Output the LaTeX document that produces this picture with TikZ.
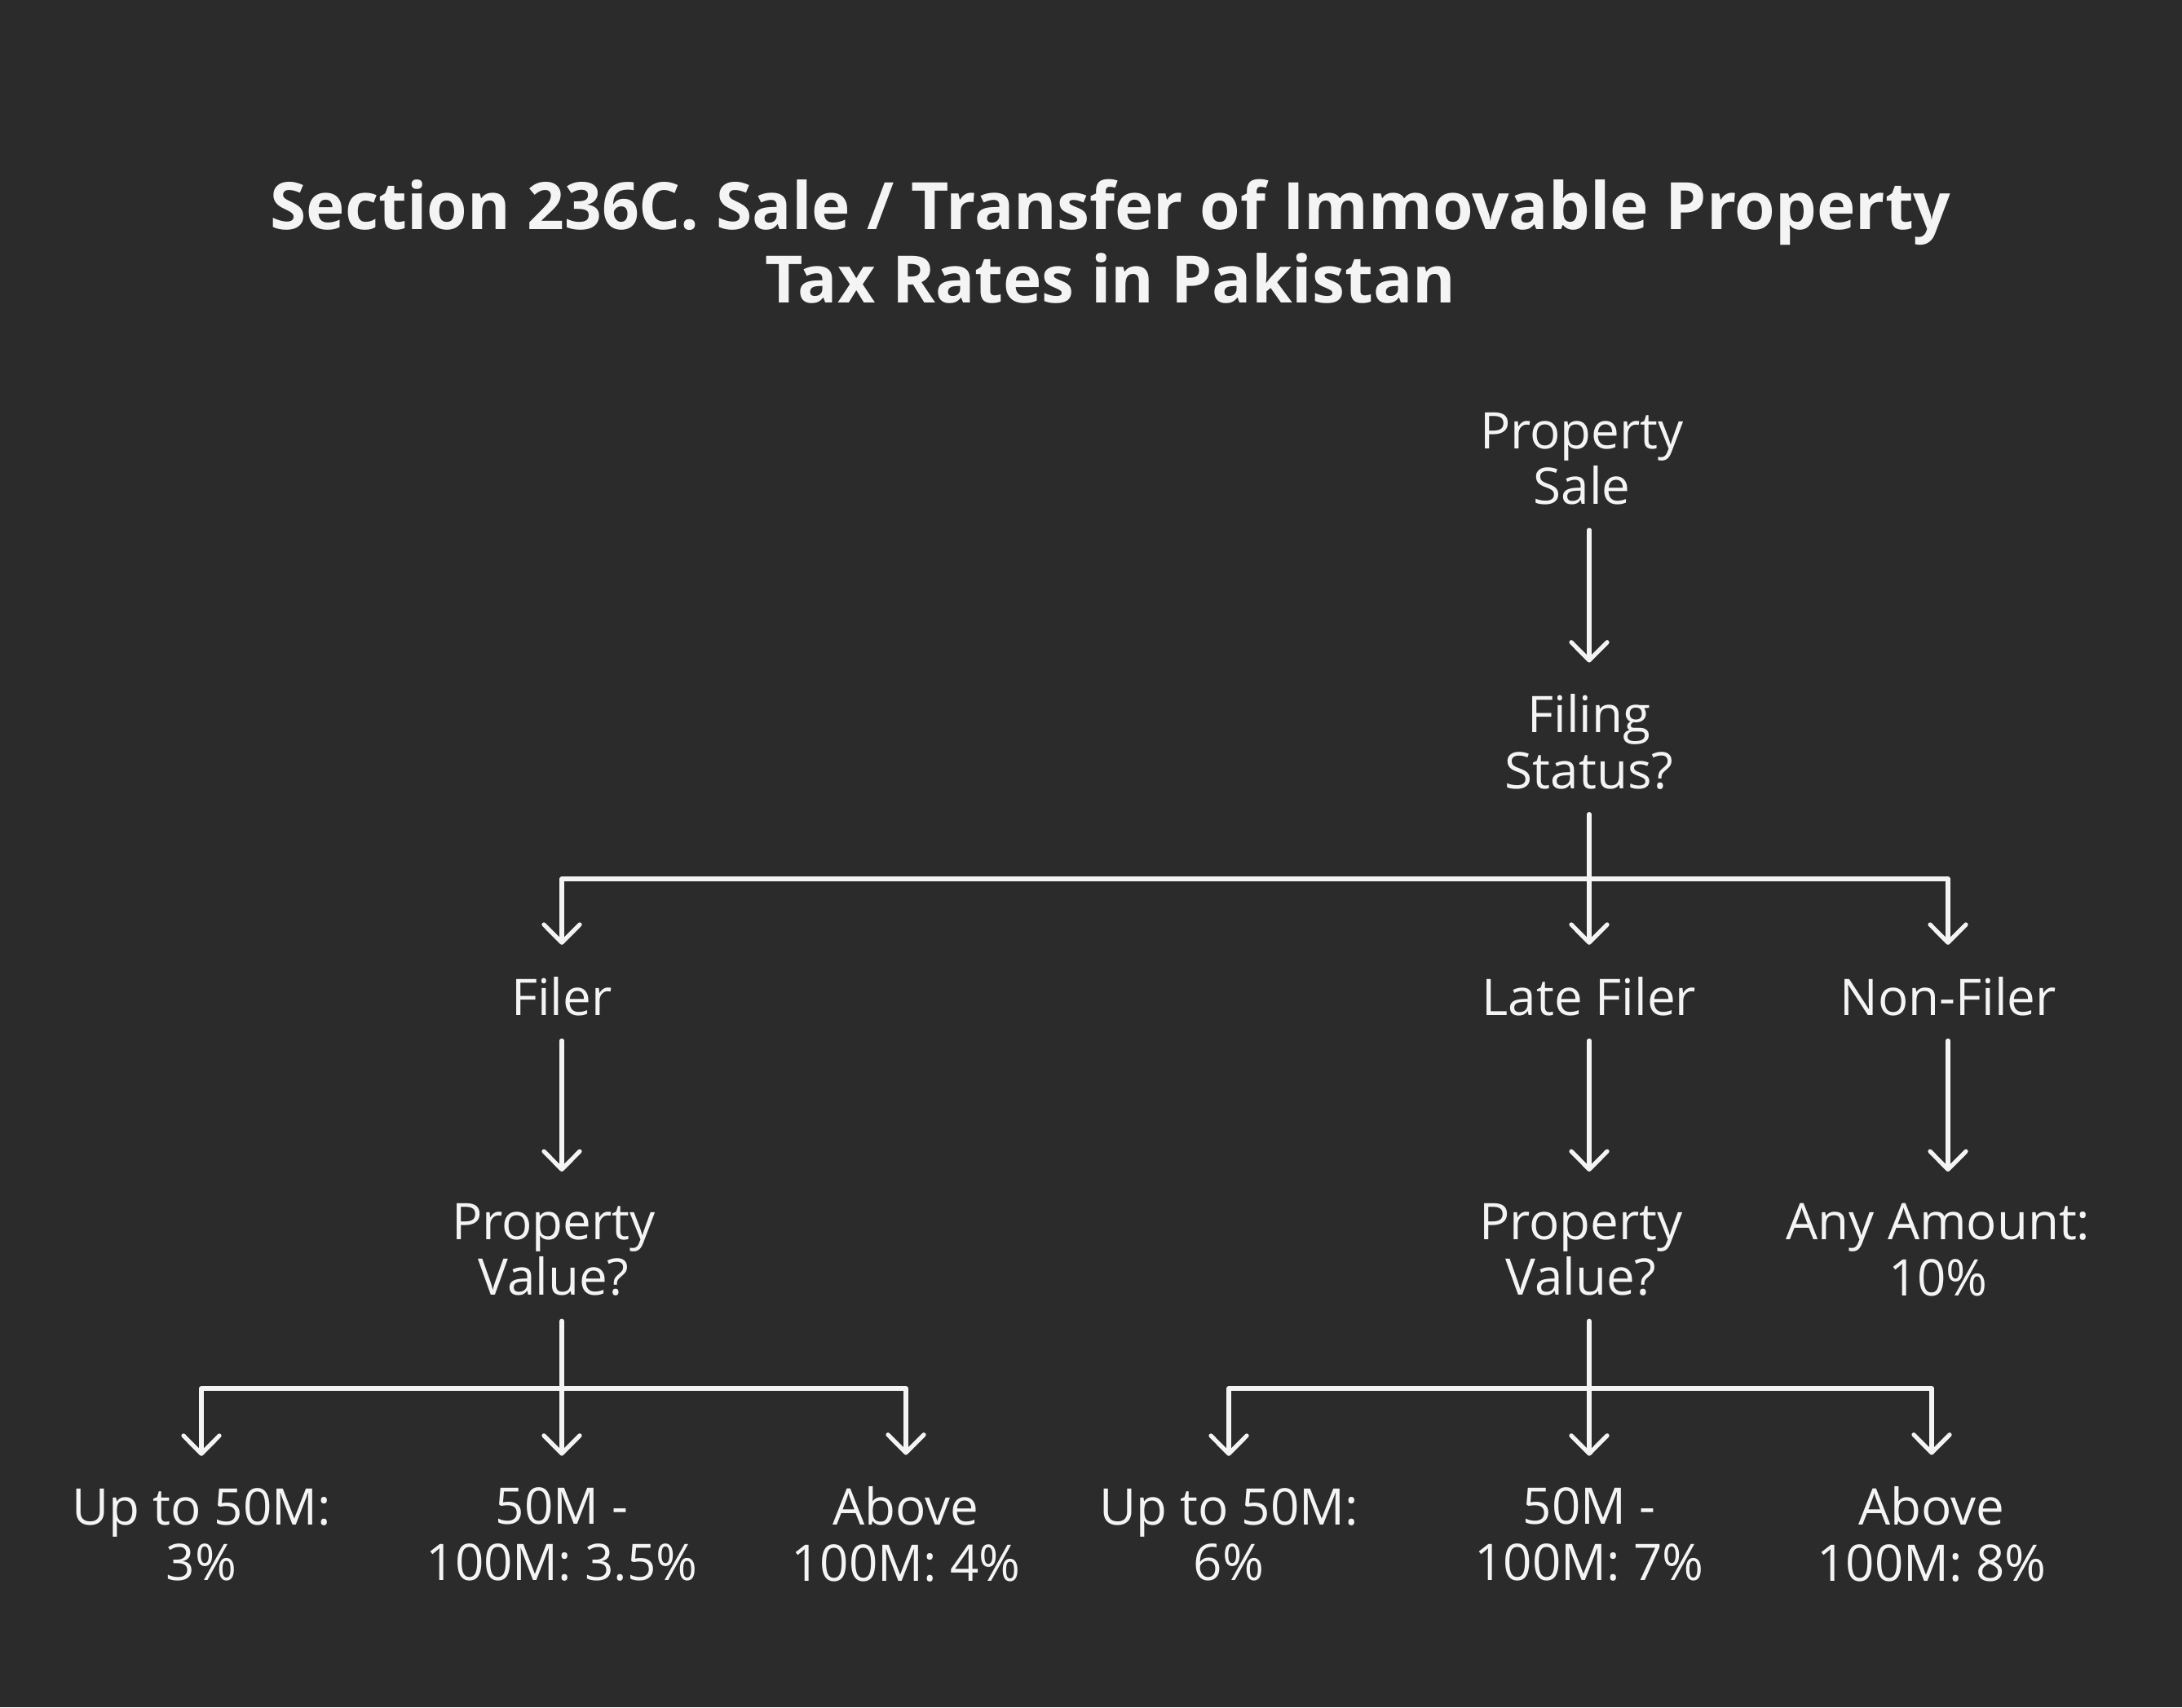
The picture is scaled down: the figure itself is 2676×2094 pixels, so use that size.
\documentclass[tikz,border=0pt]{standalone}
\usepackage{fontspec}
\setmainfont{Open Sans}
\usetikzlibrary{arrows.meta,calc}
\definecolor{bg}{HTML}{2B2B2B}
\definecolor{fg}{HTML}{F4F4F4}
\tikzset{
  txt/.style={text=fg, align=center, inner sep=0pt, font=\fontsize{17.6}{19.4}\selectfont},
  ttl/.style={text=fg, align=center, inner sep=0pt, font=\fontsize{22.8}{25.6}\selectfont\bfseries},
  ln/.style={draw=fg, line width=1.5pt, line cap=round, line join=round},
  arr/.style={ln, -{Straight Barb[length=6.3pt,width=12.5pt,line cap=round,line join=round]}, shorten >=11pt},
  from/.style={shorten <=8.5pt}
}
\begin{document}
\begin{tikzpicture}[x=0.01cm,y=-0.01cm]
\fill[bg] (0,0) rectangle (2676,2094);
\useasboundingbox (0,0) rectangle (2676,2094);
\node[ttl] (title) at (1362,296) {Section 236C. Sale / Transfer of Immovable Property\\Tax Rates in Pakistan};
\node[txt] (ps) at (1940,563) {Property\\Sale};
\node[txt] (fs) at (1949,910) {Filing\\Status?};
\node[txt] (filer) at (689,1222) {Filer};
\node[txt] (late) at (1949,1222) {Late Filer};
\node[txt] (nonf) at (2389,1222) {Non-Filer};
\node[txt] (pv1) at (679,1533) {Property\\Value?};
\node[txt] (pv2) at (1939,1533) {Property\\Value?};
\node[txt] (any) at (2377,1533) {Any Amount:\\10\%};
\node[txt] (l1) at (247,1882) {Up to 50M:\\3\%};
\node[txt] (l2) at (689,1882) {50M -\\100M: 3.5\%};
\node[txt] (l3) at (1111,1882) {Above\\100M: 4\%};
\node[txt] (r1) at (1507,1882) {Up to 50M:\\6\%};
\node[txt] (r2) at (1949,1882) {50M -\\100M: 7\%};
\node[txt] (r3) at (2369,1882) {Above\\100M: 8\%};
\coordinate (j1) at (1949,1078);
\coordinate (j2) at (689,1703);
\coordinate (j3) at (1949,1703);
% level 1
\draw[arr,from] (ps.south -| fs) -- (fs.north);
% level 2
\draw[ln,from] (fs.south) -- (j1);
\draw[arr] (j1) -| (filer.north);
\draw[arr] (j1) -- (late.north);
\draw[arr] (j1) -| (nonf.north);
% level 3
\draw[arr,from] (filer.south) -- (filer.south |- pv1.north);
\draw[arr,from] (late.south) -- (late.south |- pv2.north);
\draw[arr,from] (nonf.south) -- (nonf.south |- any.north);
% level 4
\draw[ln,from] (pv1.south -| j2) -- (j2);
\draw[arr] (j2) -| (l1.north);
\draw[arr] (j2) -- (l2.north);
\draw[arr] (j2) -| (l3.north);
\draw[ln,from] (pv2.south -| j3) -- (j3);
\draw[arr] (j3) -| (r1.north);
\draw[arr] (j3) -- (r2.north);
\draw[arr] (j3) -| (r3.north);
\end{tikzpicture}
\end{document}
